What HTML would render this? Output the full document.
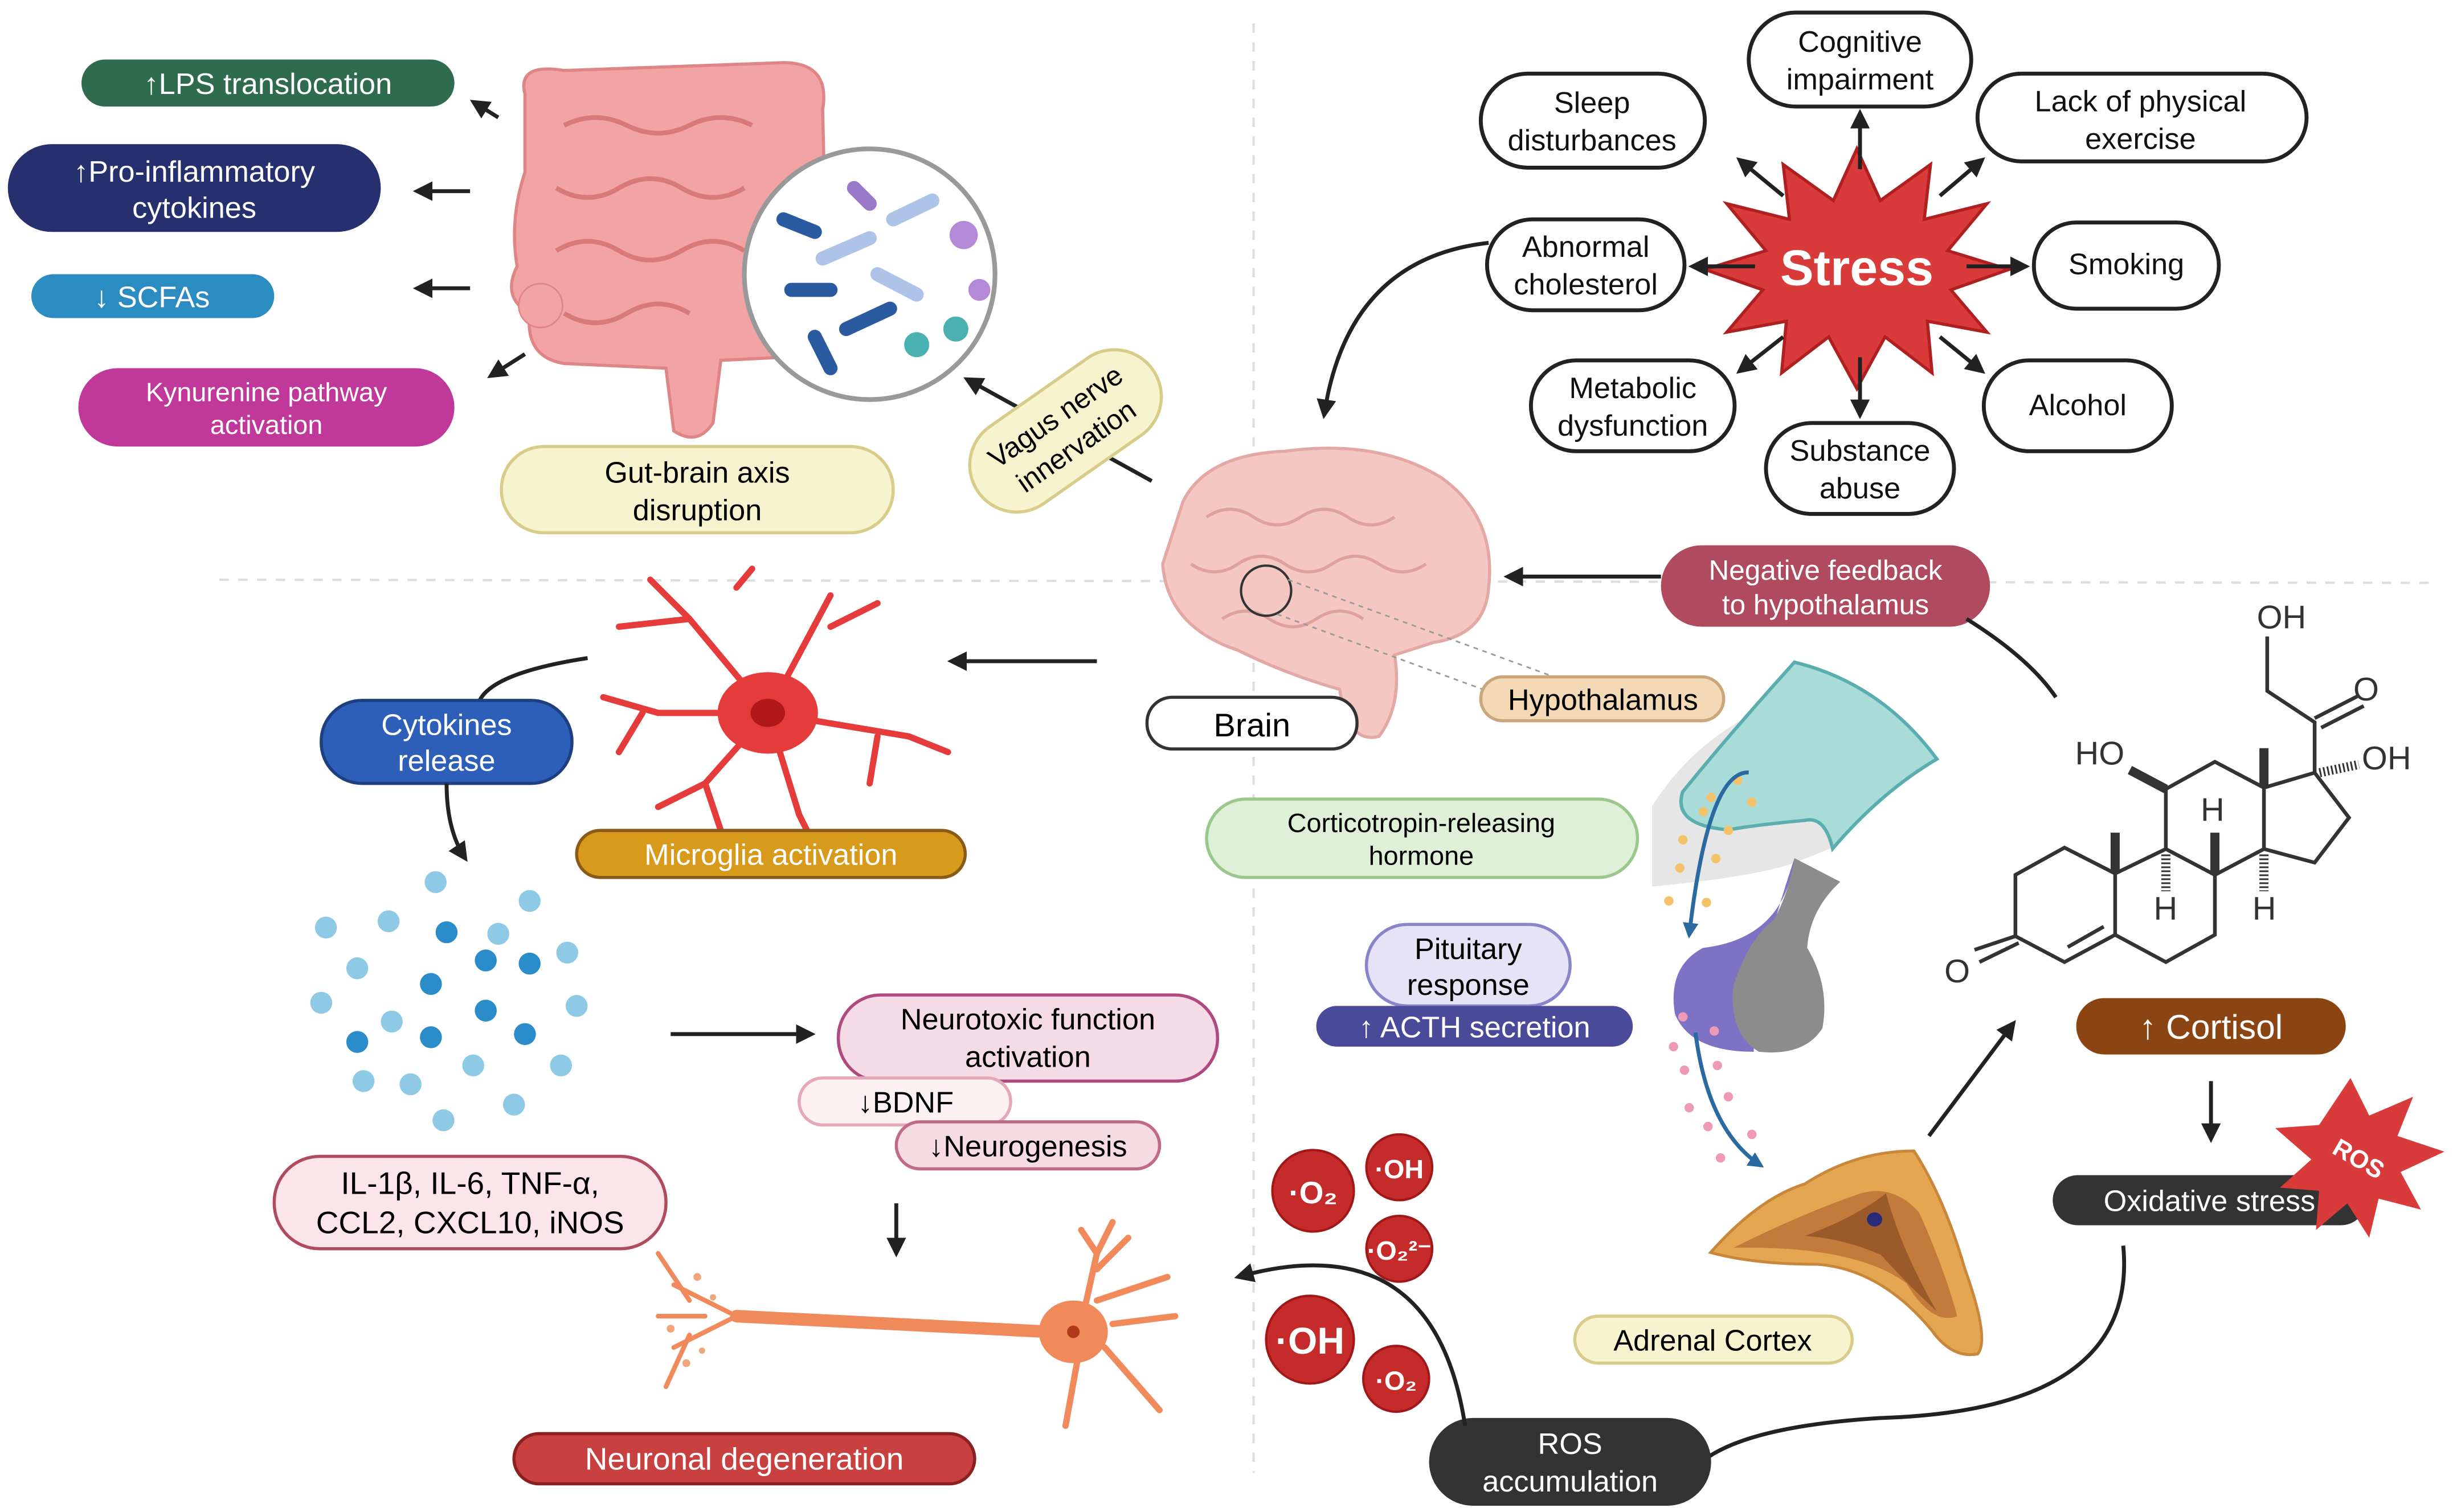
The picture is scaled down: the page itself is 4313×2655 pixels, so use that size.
<!DOCTYPE html>
<html><head><meta charset="utf-8"><style>
html,body{margin:0;padding:0;background:#fff}
svg{display:block}
text{font-family:"Liberation Sans",sans-serif}
</style></head><body>
<svg width="4313" height="2655" viewBox="0 0 1568 965" preserveAspectRatio="none" xmlns="http://www.w3.org/2000/svg">
<defs>
<marker id="ah" viewBox="0 0 10 10" refX="8" refY="5" markerWidth="5" markerHeight="5" orient="auto"><path d="M0,0L10,5L0,10z" fill="#222"/></marker>
<marker id="bh" viewBox="0 0 10 10" refX="8" refY="5" markerWidth="4" markerHeight="4" orient="auto"><path d="M0,0L10,5L0,10z" fill="#2a6aa0"/></marker>
</defs>
<rect width="1568" height="965" fill="#fff"/>
<line x1="800" y1="15" x2="800" y2="940" stroke="#ddd" stroke-width="1.5" stroke-dasharray="6,6"/>
<line x1="140" y1="370" x2="1550" y2="372" stroke="#ddd" stroke-width="1.5" stroke-dasharray="6,6"/>

<g font-size="19" fill="#fff" text-anchor="middle">
<rect x="52" y="38" width="238" height="30" rx="15" fill="#2f6b4f"/><text x="171" y="60" fill="#fff">↑LPS translocation</text>
<rect x="5" y="92" width="238" height="56" rx="28" fill="#27306e"/><text x="124" y="116" fill="#fff">↑Pro-inflammatory</text><text x="124" y="139" fill="#fff">cytokines</text>
<rect x="20" y="175" width="155" height="28" rx="14" fill="#2a8cc0"/><text x="97" y="196" fill="#fff">↓ SCFAs</text>
<rect x="50" y="235" width="240" height="50" rx="25" fill="#c0399a"/><text x="170" y="256" font-size="17" fill="#fff">Kynurenine pathway</text><text x="170" y="277" font-size="17" fill="#fff">activation</text>
</g>
<g stroke="#222" stroke-width="2.5" marker-end="url(#ah)">
<line x1="318" y1="75" x2="302" y2="65"/><line x1="300" y1="122" x2="266" y2="122"/><line x1="300" y1="184" x2="266" y2="184"/><line x1="335" y1="226" x2="313" y2="240"/>
</g>
<path d="M335,60 Q330,40 360,45 L500,40 Q530,40 525,70 L528,200 Q530,230 500,228 L460,230 L455,270 Q445,285 430,275 L425,235 L360,232 Q335,228 338,200 Q320,190 330,170 Q325,140 335,110 Z" fill="#f2a3a3" stroke="#e08585" stroke-width="2"/>
<path d="M360,80 q20,-10 40,0 t40,0 t40,0 M355,120 q20,12 40,0 t40,0 t40,0 M355,160 q20,-12 40,0 t40,0 t40,0 M360,200 q20,12 40,0 t40,0" fill="none" stroke="#d97a7a" stroke-width="3"/>
<circle cx="345" cy="195" r="14" fill="#f2a3a3" stroke="#e08585"/>
<circle cx="555" cy="175" r="80" fill="#fff" stroke="#999" stroke-width="3"/>
<g stroke-linecap="round" stroke-width="9">
<line x1="500" y1="140" x2="520" y2="148" stroke="#2a5aa0"/>
<line x1="525" y1="165" x2="555" y2="152" stroke="#aec3e8"/>
<line x1="505" y1="185" x2="530" y2="185" stroke="#2a5aa0"/>
<line x1="540" y1="210" x2="568" y2="197" stroke="#2a5aa0"/>
<line x1="560" y1="175" x2="585" y2="188" stroke="#aec3e8"/>
<line x1="570" y1="140" x2="595" y2="128" stroke="#aec3e8"/>
<line x1="520" y1="215" x2="530" y2="235" stroke="#2a5aa0"/>
<line x1="545" y1="120" x2="555" y2="130" stroke="#9a7ac8"/>
</g>
<circle cx="615" cy="150" r="9" fill="#b48ad8"/><circle cx="610" cy="210" r="8" fill="#4ab0b0"/><circle cx="585" cy="220" r="8" fill="#4ab0b0"/><circle cx="625" cy="185" r="7" fill="#b48ad8"/>
<rect x="320" y="285" width="250" height="55" rx="27" fill="#f8f3cf" stroke="#d8cc8a" stroke-width="2"/>
<text x="445" y="308" font-size="19" text-anchor="middle">Gut-brain  axis</text><text x="445" y="332" font-size="19" text-anchor="middle">disruption</text>
<line x1="735" y1="307" x2="617" y2="242" stroke="#222" stroke-width="2.5" marker-end="url(#ah)"/>
<g transform="translate(680,275) rotate(-35)"><rect x="-68" y="-30" width="136" height="60" rx="30" fill="#f8f3cf" stroke="#d8cc8a" stroke-width="2"/><text x="0" y="-5" font-size="18" text-anchor="middle">Vagus nerve</text><text x="0" y="18" font-size="18" text-anchor="middle">innervation</text></g>

<polygon points="1185,95 1200,128 1232,105 1228,140 1268,130 1243,160 1282,172 1245,185 1268,212 1230,205 1233,238 1203,215 1185,248 1167,215 1137,238 1140,205 1102,212 1125,185 1088,172 1127,160 1102,130 1142,140 1138,105 1170,128" fill="#d93a3a" stroke="#b02020" stroke-width="2"/>
<text x="1185" y="182" font-size="32" font-weight="bold" fill="#fff" text-anchor="middle">Stress</text>
<g stroke="#222" stroke-width="2.5" marker-end="url(#ah)">
<line x1="1187" y1="108" x2="1187" y2="72"/><line x1="1138" y1="125" x2="1110" y2="102"/><line x1="1238" y1="125" x2="1265" y2="102"/>
<line x1="1120" y1="170" x2="1080" y2="170"/><line x1="1255" y1="170" x2="1293" y2="170"/>
<line x1="1138" y1="215" x2="1110" y2="237"/><line x1="1238" y1="215" x2="1265" y2="237"/><line x1="1187" y1="228" x2="1187" y2="265"/>
</g>
<g fill="#fff" stroke="#222" stroke-width="2.5">
<rect x="1116" y="8" width="142" height="60" rx="30"/><rect x="945" y="47" width="143" height="60" rx="30"/><rect x="1262" y="47" width="210" height="56" rx="28"/>
<rect x="949" y="140" width="126" height="58" rx="29"/><rect x="1298" y="142" width="118" height="55" rx="27"/>
<rect x="977" y="230" width="130" height="58" rx="29"/><rect x="1127" y="270" width="120" height="58" rx="29"/><rect x="1266" y="230" width="120" height="58" rx="29"/>
</g>
<g font-size="19" text-anchor="middle" fill="#111">
<text x="1187" y="33">Cognitive</text><text x="1187" y="57">impairment</text>
<text x="1016" y="72">Sleep</text><text x="1016" y="96">disturbances</text>
<text x="1366" y="71">Lack of physical</text><text x="1366" y="95">exercise</text>
<text x="1012" y="164">Abnormal</text><text x="1012" y="188">cholesterol</text>
<text x="1357" y="175">Smoking</text>
<text x="1042" y="254">Metabolic</text><text x="1042" y="278">dysfunction</text>
<text x="1187" y="294">Substance</text><text x="1187" y="318">abuse</text>
<text x="1326" y="265">Alcohol</text>
</g>
<path d="M950,155 Q860,165 845,265" fill="none" stroke="#222" stroke-width="2.5" marker-end="url(#ah)"/>

<!-- pituitary/adrenal (drawn first so labels overlay) -->
<g transform="translate(1054.3,418.1) scale(0.1623,0.3014)">
<path d="M0,320 Q200,150 560,90 L1100,210 Q900,300 700,410 L560,440 Q400,470 0,490 Z" fill="#e6e6e6"/>
<path d="M560,15 Q900,60 1120,220 Q900,290 710,410 Q680,340 600,350 Q400,360 300,370 Q80,360 120,290 Q300,170 560,15 Z" fill="#a9dcd9" stroke="#5aaeb0" stroke-width="6" vector-effect="non-scaling-stroke"/>
<path d="M560,430 Q520,600 200,620 Q60,660 90,760 Q150,840 400,840 L400,720 Q480,560 560,430 Z" fill="#7e72c4"/>
<path d="M560,430 L740,480 Q620,540 610,620 Q700,700 670,790 Q600,850 420,840 Q300,800 320,700 Q380,600 480,560 Q540,500 560,430 Z" fill="#8c8c8c"/>
<path d="M230,1265 Q420,1150 600,1120 Q800,1050 1030,1050 Q1150,1150 1230,1300 Q1330,1450 1280,1480 Q1180,1490 1100,1430 Q900,1300 650,1290 Q400,1290 230,1265 Z" fill="#e4a650" stroke="#c8873a" stroke-width="5" vector-effect="non-scaling-stroke"/>
<path d="M320,1255 Q600,1180 820,1140 Q950,1120 1050,1180 Q1150,1300 1200,1400 Q1100,1420 1000,1330 Q800,1250 320,1255 Z" fill="#c27b3a"/>
<path d="M600,1230 Q800,1190 920,1140 Q980,1260 1120,1390 Q1000,1330 900,1270 Q750,1235 600,1230 Z" fill="#9b5a2a"/>
<ellipse cx="875" cy="1195" rx="30" ry="15" fill="#2a2a7a"/>
</g>
<g fill="#f3c26a">
<circle cx="1092" cy="509" r="3"/><circle cx="1109" cy="498" r="3"/><circle cx="1087" cy="518" r="3"/><circle cx="1118" cy="512" r="3"/><circle cx="1074" cy="536" r="3"/><circle cx="1103" cy="530" r="3"/><circle cx="1095" cy="548" r="3"/><circle cx="1072" cy="554" r="3"/><circle cx="1065" cy="575" r="3"/><circle cx="1089" cy="576" r="3"/>
</g>
<g fill="#ee9ab4">
<circle cx="1074" cy="649" r="3"/><circle cx="1094" cy="658" r="3"/><circle cx="1068" cy="668" r="3"/><circle cx="1075" cy="683" r="3"/><circle cx="1096" cy="680" r="3"/><circle cx="1103" cy="700" r="3"/><circle cx="1078" cy="707" r="3"/><circle cx="1090" cy="719" r="3"/><circle cx="1118" cy="724" r="3"/><circle cx="1098" cy="739" r="3"/>
</g>
<path d="M1116,493 Q1090,492 1078,597" fill="none" stroke="#2a6aa0" stroke-width="2.5" marker-end="url(#bh)"/>
<path d="M1082,659 Q1090,722 1124,744" fill="none" stroke="#2a6aa0" stroke-width="2.5" marker-end="url(#bh)"/>
<line x1="1231" y1="725" x2="1285" y2="653" stroke="#222" stroke-width="2.5" marker-end="url(#ah)"/>

<!-- Brain -->
<path d="M755,320 Q770,290 820,288 Q880,280 920,305 Q955,330 950,375 Q948,405 915,410 L890,418 Q895,450 880,470 Q860,475 855,440 Q820,430 790,415 Q745,400 742,360 Z" fill="#f4c7c3" stroke="#e3a8a4" stroke-width="2"/>
<path d="M770,330 q15,-10 30,0 t30,0 t30,0 t30,0 M760,360 q15,10 30,0 t30,0 t30,0 t30,0 t30,0 M780,395 q15,-10 30,0 t30,0 t30,0" fill="none" stroke="#dfa19c" stroke-width="2"/>
<circle cx="808" cy="377" r="16" fill="none" stroke="#333" stroke-width="1.5"/>
<line x1="822" y1="370" x2="1000" y2="435" stroke="#999" stroke-dasharray="3,3"/><line x1="815" y1="392" x2="960" y2="445" stroke="#999" stroke-dasharray="3,3"/>
<rect x="732" y="445" width="134" height="33" rx="16" fill="#fff" stroke="#333" stroke-width="2"/><text x="799" y="470" font-size="21" text-anchor="middle">Brain</text>
<rect x="945" y="432" width="155" height="28" rx="14" fill="#f3d9b5" stroke="#c9a77a" stroke-width="2"/><text x="1023" y="453" font-size="19" text-anchor="middle">Hypothalamus</text>
<rect x="1060" y="348" width="210" height="52" rx="26" fill="#b04a5e"/>
<text x="1165" y="370" font-size="18" fill="#fff" text-anchor="middle">Negative feedback</text><text x="1165" y="392" font-size="18" fill="#fff" text-anchor="middle">to hypothalamus</text>
<line x1="1060" y1="368" x2="962" y2="368" stroke="#222" stroke-width="2.5" marker-end="url(#ah)"/>
<path d="M1255,395 Q1295,420 1312,445" fill="none" stroke="#222" stroke-width="2.5"/>

<!-- cortisol molecule -->
<g transform="translate(1236.1,363.6) scale(0.2087,0.1739)" stroke="#333" fill="none">
<g stroke-width="6.5" vector-effect="non-scaling-stroke">
<path vector-effect="non-scaling-stroke" d="M240,1120 L390,1020 L545,1115 L545,1340 L390,1440 L240,1345 Z"/>
<path vector-effect="non-scaling-stroke" d="M545,1115 L700,1025 L850,1120 L850,1340 L700,1440 L545,1340"/>
<path vector-effect="non-scaling-stroke" d="M700,1025 L700,805 L850,705 L1000,800 L1000,1025 L850,1120"/>
<path vector-effect="non-scaling-stroke" d="M1000,800 L1155,745 L1260,910 L1155,1075 L1000,1025"/>
<path vector-effect="non-scaling-stroke" d="M1155,745 L1155,560 L1010,445 L1010,245 M1155,545 L1285,465 M1175,580 L1305,500"/>
<path vector-effect="non-scaling-stroke" d="M240,1345 L115,1395 M250,1370 L130,1440 M400,1385 L510,1310"/>
</g>
<path vector-effect="non-scaling-stroke" stroke-width="16" d="M545,1115 L545,965 M850,1120 L850,965 M1000,800 L1000,655 M700,805 L590,735"/>
<path vector-effect="non-scaling-stroke" stroke-width="16" stroke-dasharray="3,4" d="M700,1045 L700,1180 M1000,1045 L1000,1180 M1170,745 L1290,715"/>
</g>
<g font-size="21" fill="#333" text-anchor="middle">
<text x="1456" y="401">OH</text><text x="1510" y="447">O</text><text x="1340" y="488">HO</text><text x="1523" y="491">OH</text>
<text x="1412" y="524">H</text><text x="1382" y="587">H</text><text x="1445" y="587">H</text><text x="1249" y="627">O</text>
</g>

<rect x="770" y="510" width="275" height="50" rx="25" fill="#dff0d8" stroke="#9cc78c" stroke-width="2"/>
<text x="907" y="531" font-size="17" text-anchor="middle">Corticotropin-releasing</text><text x="907" y="552" font-size="17" text-anchor="middle">hormone</text>
<rect x="872" y="590" width="130" height="52" rx="26" fill="#e6e3f6" stroke="#8a84c8" stroke-width="2"/>
<text x="937" y="612" font-size="19" text-anchor="middle">Pituitary</text><text x="937" y="635" font-size="19" text-anchor="middle">response</text>
<rect x="840" y="642" width="202" height="26" rx="13" fill="#4a4a9a"/><text x="941" y="662" font-size="19" fill="#fff" text-anchor="middle">↑ ACTH secretion</text>
<rect x="1005" y="840" width="177" height="30" rx="15" fill="#f8f3cf" stroke="#d8cc8a" stroke-width="2"/><text x="1093" y="862" font-size="19" text-anchor="middle">Adrenal Cortex</text>

<rect x="1325" y="637" width="172" height="36" rx="18" fill="#8b4513"/><text x="1411" y="663" font-size="22" fill="#fff" text-anchor="middle">↑ Cortisol</text>
<line x1="1411" y1="690" x2="1411" y2="727" stroke="#222" stroke-width="2.5" marker-end="url(#ah)"/>
<rect x="1310" y="750" width="200" height="32" rx="16" fill="#333"/><text x="1410" y="773" font-size="19" fill="#fff" text-anchor="middle">Oxidative stress</text>
<polygon points="1500,688 1512,712 1540,700 1530,725 1560,735 1532,748 1545,772 1518,765 1512,790 1498,768 1478,785 1480,760 1455,758 1475,740 1452,720 1480,718" fill="#d93a3a"/>
<text x="1505" y="745" font-size="16" font-weight="bold" fill="#fff" text-anchor="middle" transform="rotate(30 1505 740)">ROS</text>
<path d="M1355,795 Q1365,900 1200,905 Q1120,910 1090,930" fill="none" stroke="#222" stroke-width="2.5"/>
<rect x="912" y="905" width="180" height="56" rx="28" fill="#333"/>
<text x="1002" y="928" font-size="19" fill="#fff" text-anchor="middle">ROS</text><text x="1002" y="952" font-size="19" fill="#fff" text-anchor="middle">accumulation</text>
<path d="M935,910 Q915,780 790,815" fill="none" stroke="#222" stroke-width="2.5" marker-end="url(#ah)"/>
<g fill="#c62b2b" stroke="#a01818" stroke-width="1.5">
<circle cx="838" cy="760" r="26"/><circle cx="893" cy="745" r="21"/><circle cx="893" cy="797" r="21"/><circle cx="836" cy="855" r="28"/><circle cx="891" cy="880" r="21"/>
</g>
<g fill="#fff" font-weight="bold" text-anchor="middle">
<text x="838" y="768" font-size="20">·O₂</text><text x="893" y="752" font-size="17">·OH</text><text x="893" y="804" font-size="17">·O₂²⁻</text><text x="836" y="864" font-size="24">·OH</text><text x="891" y="887" font-size="17">·O₂</text>
</g>

<line x1="700" y1="422" x2="607" y2="422" stroke="#222" stroke-width="2.5" marker-end="url(#ah)"/>
<g stroke="#e53b3b" stroke-width="4" fill="none" stroke-linecap="round">
<path d="M490,455 L440,395 L415,370 M440,395 L395,400 M470,375 L480,363 M490,455 L530,380 M530,400 L560,385 M490,455 L580,470 L605,480 M560,470 L555,500 M490,455 L510,520 M510,520 L520,540 M490,455 L450,500 L420,515 M450,500 L460,530 M490,455 L420,455 L385,445 M410,455 L395,480"/>
</g>
<ellipse cx="490" cy="455" rx="32" ry="26" fill="#e53b3b"/><ellipse cx="490" cy="455" rx="11" ry="9" fill="#b01818"/>
<rect x="368" y="530" width="248" height="30" rx="15" fill="#d89a1a" stroke="#8a5a18" stroke-width="2"/><text x="492" y="552" font-size="19" fill="#fff" text-anchor="middle">Microglia activation</text>
<path d="M375,420 Q310,430 305,450" fill="none" stroke="#222" stroke-width="2.5"/>
<rect x="205" y="447" width="160" height="53" rx="26" fill="#2e5fb8" stroke="#1e3f80" stroke-width="2"/>
<text x="285" y="469" font-size="19" fill="#fff" text-anchor="middle">Cytokines</text><text x="285" y="492" font-size="19" fill="#fff" text-anchor="middle">release</text>
<path d="M285,500 Q285,530 297,548" fill="none" stroke="#222" stroke-width="2.5" marker-end="url(#ah)"/>
<g fill="#8ecae6">
<circle cx="278" cy="563" r="7"/><circle cx="338" cy="575" r="7"/><circle cx="208" cy="592" r="7"/><circle cx="248" cy="588" r="7"/><circle cx="228" cy="618" r="7"/><circle cx="362" cy="608" r="7"/><circle cx="205" cy="640" r="7"/><circle cx="368" cy="642" r="7"/><circle cx="250" cy="652" r="7"/><circle cx="232" cy="690" r="7"/><circle cx="262" cy="692" r="7"/><circle cx="358" cy="680" r="7"/><circle cx="283" cy="715" r="7"/><circle cx="328" cy="705" r="7"/><circle cx="302" cy="680" r="7"/><circle cx="318" cy="596" r="7"/>
</g>
<g fill="#2a8cc8">
<circle cx="285" cy="595" r="7"/><circle cx="275" cy="628" r="7"/><circle cx="310" cy="613" r="7"/><circle cx="338" cy="615" r="7"/><circle cx="310" cy="645" r="7"/><circle cx="335" cy="660" r="7"/><circle cx="275" cy="662" r="7"/><circle cx="228" cy="665" r="7"/>
</g>
<rect x="175" y="738" width="250" height="59" rx="29" fill="#fbe4ea" stroke="#b04a5e" stroke-width="2"/>
<text x="300" y="762" font-size="20" text-anchor="middle">IL-1β, IL-6, TNF-α,</text><text x="300" y="787" font-size="20" text-anchor="middle">CCL2, CXCL10, iNOS</text>
<line x1="428" y1="660" x2="518" y2="660" stroke="#222" stroke-width="2.5" marker-end="url(#ah)"/>
<rect x="535" y="635" width="242" height="55" rx="27" fill="#f4dbe6" stroke="#b04a7e" stroke-width="2"/>
<text x="656" y="657" font-size="19" text-anchor="middle">Neurotoxic function</text><text x="656" y="681" font-size="19" text-anchor="middle">activation</text>
<rect x="510" y="688" width="135" height="30" rx="15" fill="#fdf0f2" stroke="#e6a8b8" stroke-width="2"/><text x="578" y="710" font-size="19" text-anchor="middle">↓BDNF</text>
<rect x="572" y="716" width="168" height="30" rx="15" fill="#f7dbe3" stroke="#c06a88" stroke-width="2"/><text x="656" y="738" font-size="19" text-anchor="middle">↓Neurogenesis</text>
<line x1="572" y1="768" x2="572" y2="800" stroke="#222" stroke-width="2.5" marker-end="url(#ah)"/>
<g stroke="#f08a5a" fill="none" stroke-linecap="round">
<path d="M670,850 L470,840" stroke-width="8"/>
<path d="M470,840 L430,820 M470,840 L430,860 M450,840 L420,840 M440,830 L420,800 M440,852 L425,885" stroke-width="3"/>
<path d="M690,845 L700,800 L690,785 M700,810 L720,790 M690,855 L680,910 M705,860 L740,900 M710,845 L750,840 M700,830 L745,815 M700,800 L710,780" stroke-width="4"/>
</g>
<g fill="#f0a57a"><circle cx="445" cy="815" r="2.5"/><circle cx="438" cy="870" r="2.5"/><circle cx="428" cy="848" r="2.5"/><circle cx="455" cy="828" r="2"/><circle cx="448" cy="862" r="2"/></g>
<ellipse cx="685" cy="850" rx="22" ry="20" fill="#f08a5a"/><circle cx="685" cy="850" r="4" fill="#b03a1a"/>
<rect x="328" y="915" width="294" height="32" rx="16" fill="#c94040" stroke="#8a2020" stroke-width="2"/><text x="475" y="938" font-size="20" fill="#fff" text-anchor="middle">Neuronal degeneration</text>
</svg>
</body></html>
